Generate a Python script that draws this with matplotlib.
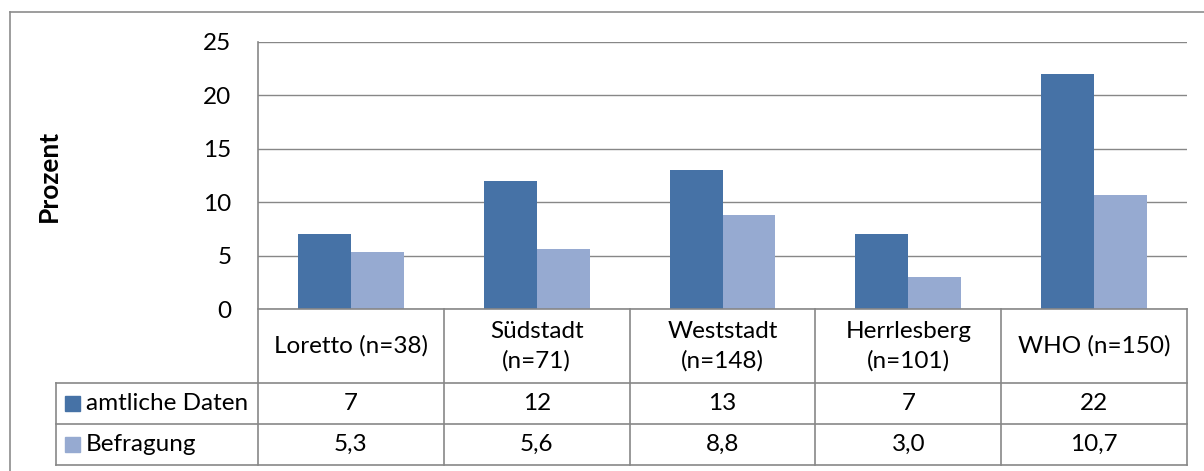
import matplotlib
matplotlib.use("Agg")
import matplotlib.pyplot as plt
from matplotlib.lines import Line2D
from matplotlib.patches import Rectangle
import numpy as np

############################################
#                   DATA                   #
############################################

categories = ["Loretto (n=38)", "Südstadt\n(n=71)", "Weststadt\n(n=148)",
              "Herrlesberg\n(n=101)", "WHO (n=150)"]
series_names = ["amtliche Daten", "Befragung"]
amtlich = [7, 12, 13, 7, 22]
befragung = [5.3, 5.6, 8.8, 3.0, 10.7]
amtlich_lbl = ["7", "12", "13", "7", "22"]
befragung_lbl = ["5,3", "5,6", "8,8", "3,0", "10,7"]
yticks = [0, 5, 10, 15, 20, 25]

c_dark = "#4672A6"
c_light = "#96AAD1"
c_grid = "#878787"
fs = 17.5

plt.rcParams['font.family'] = ['Lato', 'DejaVu Sans']

############################################
#                  LAYOUT                  #
############################################

W, H = 1204, 471
fig = plt.figure(figsize=(W/100, H/100), dpi=100)

# plot area in pixels
x0, x1 = 258, 1187
y_top, y_zero = 42, 309
ax = fig.add_axes([x0/W, 1-y_zero/H, (x1-x0)/W, (y_zero-y_top)/H])

n = len(categories)
x = np.arange(n)
bw = 0.285
ax.bar(x - bw/2, amtlich, bw, color=c_dark, zorder=3)
ax.bar(x + bw/2, befragung, bw, color=c_light, zorder=3)

ax.set_xlim(-0.5, n-0.5)
ax.set_ylim(0, 25)
ax.set_yticks(yticks)
ax.set_yticklabels([str(t) for t in yticks], fontsize=fs)
ax.tick_params(axis='y', length=0, pad=19)
ax.tick_params(axis='x', length=0, labelbottom=False)
ax.grid(True, axis='y', color=c_grid, linewidth=1.0, zorder=0)
for s in ["top", "right", "bottom", "left"]:
    ax.spines[s].set_visible(False)
ax.set_ylabel("Prozent", fontsize=19, fontweight='bold', labelpad=0)
ax.yaxis.set_label_coords((61-x0)/(x1-x0), 0.5)

# table rows (axes fraction below zero line)
def yf(px):
    return (y_zero - px)/(y_zero - y_top)

r_cat, r1, r2 = yf(383), yf(424), yf(465)
x_leg = -0.5 + (56 - x0)/((x1-x0)/n)
tr = ax.get_xaxis_transform()
lk = dict(color=c_grid, linewidth=1.2, transform=tr, clip_on=False, zorder=4)

# horizontal lines
ax.add_line(Line2D([-0.5, n-0.5], [0, 0], **lk))
for yy in [r_cat, r1, r2]:
    ax.add_line(Line2D([x_leg, n-0.5], [yy, yy], **lk))
# vertical lines
ax.add_line(Line2D([-0.5, -0.5], [1, r2], **lk))
ax.add_line(Line2D([x_leg, x_leg], [r_cat, r2], **lk))
for i in range(n):
    ax.add_line(Line2D([i+0.5, i+0.5], [0, r2], **lk))

# table text
for i in range(n):
    ax.text(x[i], (0 + r_cat)/2, categories[i], transform=tr, ha='center',
            va='center', fontsize=fs, linespacing=1.45)
    ax.text(x[i], (r_cat + r1)/2, amtlich_lbl[i], transform=tr, ha='center',
            va='center', fontsize=fs)
    ax.text(x[i], (r1 + r2)/2, befragung_lbl[i], transform=tr, ha='center',
            va='center', fontsize=fs)

# legend keys inside table
unit = (x1-x0)/n
for yy_top, yy_bot, col, name in [(r_cat, r1, c_dark, series_names[0]),
                                   (r1, r2, c_light, series_names[1])]:
    mid = (yy_top + yy_bot)/2
    kx = -0.5 + (65 - x0)/unit
    kw = 15/unit
    kh = 15/(y_zero - y_top)
    ax.add_patch(Rectangle((kx, mid - kh/2), kw, kh, transform=tr,
                           color=col, clip_on=False))
    ax.text(-0.5 + (86 - x0)/unit, mid, name, transform=tr, ha='left',
            va='center', fontsize=fs)

# outer chart border (cropped at right and bottom)
fig.add_artist(Line2D([10/W, 10/W], [0, 1-12/H], color="#8c8c8c",
                      linewidth=1.2, transform=fig.transFigure))
fig.add_artist(Line2D([10/W, 1], [1-12/H, 1-12/H], color="#8c8c8c",
                      linewidth=1.2, transform=fig.transFigure))

plt.savefig("out.png", dpi=100, facecolor="white")
